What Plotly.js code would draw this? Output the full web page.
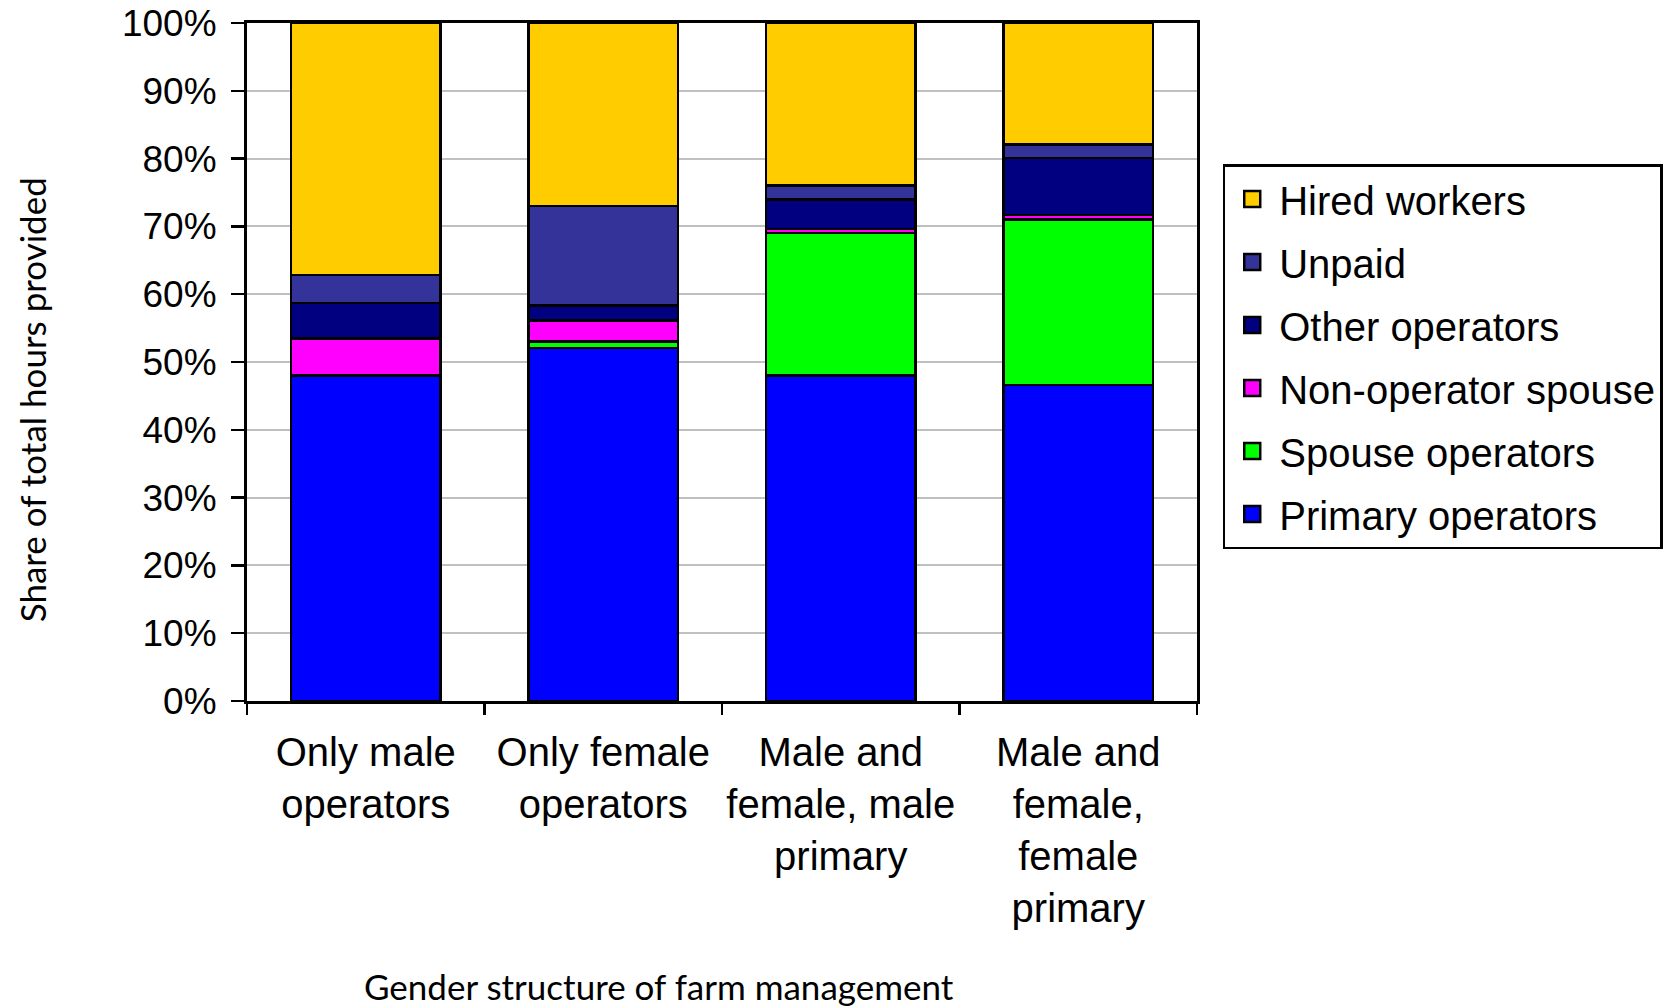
<!DOCTYPE html>
<html><head><meta charset="utf-8">
<script src="https://cdn.plot.ly/plotly-3.0.1.min.js"></script>
<style>html,body{margin:0;padding:0;background:#fff}#chart{width:1674px;height:1008px}</style>
</head><body><div id="chart"></div>
<script>
const categories = ["Only male operators", "Only female operators", "Male and female, male primary", "Male and female, female primary"];
const tickLabels = ["Only male<br>operators", "Only female<br>operators", "Male and<br>female, male<br>primary", "Male and<br>female,<br>female<br>primary"];
const seriesNames = ["Primary operators", "Spouse operators", "Non-operator spouse", "Other operators", "Unpaid", "Hired workers"];
const primaryOperators = [48.0, 52.1, 48.0, 46.6];
const spouseOperators = [0.0, 0.9, 21.0, 24.4];
const nonOperatorSpouse = [5.5, 3.1, 0.6, 0.7];
const otherOperators = [5.2, 2.2, 4.4, 8.4];
const unpaid = [4.1, 14.7, 2.0, 2.0];
const hiredWorkers = [37.2, 27.0, 24.0, 17.9];
const yTickVals = [0, 10, 20, 30, 40, 50, 60, 70, 80, 90, 100];
const yTickLabels = ["0%", "10%", "20%", "30%", "40%", "50%", "60%", "70%", "80%", "90%", "100%"];

const seriesValues = [primaryOperators, spouseOperators, nonOperatorSpouse, otherOperators, unpaid, hiredWorkers];
const colors = ["#0000FF", "#00FF00", "#FF00FF", "#000080", "#333399", "#FFCC00"];

const barTraces = seriesNames.map((name, i) => ({
  type: 'bar',
  name: name,
  x: categories,
  y: seriesValues[i],
  showlegend: false,
  marker: {color: colors[i], line: {color: '#000', width: 2.5}},
  hoverinfo: 'x+y+name'
}));

// legend-only entries (larger square swatches, like the original legend)
const legendTraces = seriesNames.map((name, i) => ({
  type: 'scatter',
  mode: 'markers',
  name: name,
  x: [null],
  y: [null],
  legendgroup: 'g' + i,
  legendrank: 10 - i,
  marker: {symbol: 'square', size: 20, color: colors[i], line: {color: '#000', width: 2.5}},
  hoverinfo: 'skip'
}));

const layout = {
  width: 1674, height: 1008,
  margin: {l: 247, r: 476, t: 23, b: 306.5, pad: 0},
  paper_bgcolor: '#fff', plot_bgcolor: '#fff',
  barmode: 'stack',
  bargap: 0.37,
  font: {family: 'Liberation Sans, Arial, sans-serif', color: '#000'},
  xaxis: {
    type: 'category',
    tickvals: categories,
    ticktext: tickLabels,
    tickangle: 0,
    tickson: 'boundaries',
    ticks: 'outside', ticklen: 11, tickwidth: 2.5, tickcolor: '#000',
    showline: true, linecolor: '#000', linewidth: 3, mirror: true,
    showgrid: false,
    tickfont: {size: 40, family: 'Liberation Sans, Arial, sans-serif'},
    ticklabelstandoff: 14
  },
  yaxis: {
    range: [0, 100],
    tickvals: yTickVals,
    ticktext: yTickLabels,
    ticks: 'outside', ticklen: 13, tickwidth: 2.5, tickcolor: '#000',
    showline: true, linecolor: '#000', linewidth: 3, mirror: true,
    showgrid: true, gridcolor: '#c0c0c0', gridwidth: 2,
    zeroline: false,
    tickfont: {size: 37, family: 'Liberation Sans, Arial, sans-serif'},
    ticklabelstandoff: 7
  },
  legend: {
    x: 1.026, xanchor: 'left', y: 0.792, yanchor: 'top',
    traceorder: 'grouped',
    tracegroupgap: 8,
    itemwidth: 44,
    bordercolor: '#000', borderwidth: 2.5,
    bgcolor: '#fff',
    font: {size: 40, family: 'Liberation Sans, Arial, sans-serif'}
  },
  annotations: [
    {text: 'Share of total hours provided', xref: 'paper', yref: 'paper', x: -0.226, y: 0.444,
     xanchor: 'center', yanchor: 'middle', textangle: -90, showarrow: false,
     font: {size: 35, family: 'Lato, Open Sans, sans-serif', color: '#000'}},
    {text: 'Gender structure of farm management', xref: 'paper', yref: 'paper', x: 0.434, y: -0.421,
     xanchor: 'center', yanchor: 'middle', showarrow: false,
     font: {size: 35, family: 'Lato, Open Sans, sans-serif', color: '#000'}}
  ]
};

Plotly.newPlot('chart', barTraces.concat(legendTraces), layout, {displayModeBar: false, staticPlot: true});
</script>
</body></html>
